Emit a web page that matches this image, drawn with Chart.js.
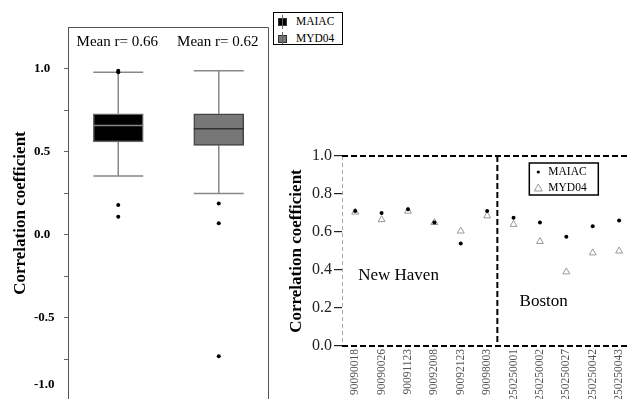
<!DOCTYPE html>
<html>
<head>
<meta charset="utf-8">
<script src="https://cdn.jsdelivr.net/npm/chart.js@4.4.0/dist/chart.umd.min.js"></script>
<style>
  html, body { margin:0; padding:0; background:#fff; overflow:hidden; width:630px; height:399px; }
  #leftChart { position:absolute; left:0; top:0; }
  #rightChart { position:absolute; left:272px; top:0; }
  #boxLegend { position:absolute; left:273px; top:12px; width:68px; height:31px; border:1.5px solid #000; background:#fff;
    font-family:"Liberation Serif", serif; font-size:11.5px; line-height:17px; overflow:hidden; }
  #boxLegend div { position:relative; padding-left:22px; height:17px; }
  #boxLegend .glyph { position:absolute; left:4px; top:5px; width:7px; height:6px; border:1px solid #333; }
  #boxLegend .glyph:before { content:""; position:absolute; left:3px; top:-4px; width:1px; height:14px; background:#666; }
</style>
</head>
<body>
<canvas id="leftChart" width="272" height="399"></canvas>
<canvas id="rightChart" width="364" height="440"></canvas>
<div id="boxLegend">
  <div><span class="glyph" style="background:#000"></span>MAIAC</div>
  <div><span class="glyph" style="background:#777"></span>MYD04</div>
</div>
<script>
const serif = '"Liberation Serif", "Times New Roman", serif';

// box plot (left)
const boxLabels = ['MAIAC', 'MYD04'];
const boxQ1 = [0.56, 0.54];
const boxMedian = [0.66, 0.64];
const boxQ3 = [0.73, 0.73];
const whiskerLow = [0.355, 0.25];
const whiskerHigh = [0.98, 0.99];
const outliersMAIAC = [0.99, 0.98, 0.18, 0.11];
const outliersMYD04 = [0.19, 0.07, -0.73];
const meanR = [0.66, 0.62];
const leftYTicks = [-1, -0.75, -0.5, -0.25, 0, 0.25, 0.5, 0.75, 1];

// site correlations (right)
const sites = ['90090018', '90090026', '90091123', '90092008', '90092123', '90098003',
               '250250001', '250250002', '250250027', '250250042', '250250043'];
const maiacR = [0.71, 0.70, 0.72, 0.65, 0.54, 0.71, 0.675, 0.65, 0.575, 0.63, 0.66];
const myd04R = [0.705, 0.665, 0.71, 0.65, 0.605, 0.685, 0.64, 0.55, 0.39, 0.49, 0.50];
const rightYTicks = [0, 0.2, 0.4, 0.6, 0.8, 1.0];
const cityNames = ['New Haven', 'Boston'];

const isMajor = v => Math.abs(v * 2 - Math.round(v * 2)) < 1e-6;

// whiskers, median, frame and mean labels
const boxPlugin = {
  id: 'boxPlugin',
  beforeDatasetsDraw(chart) {
    const {ctx, scales: {x, y}} = chart;
    const bars = chart.getDatasetMeta(0).data;
    ctx.save();
    ctx.strokeStyle = '#888';
    ctx.lineWidth = 1.5;
    boxLabels.forEach((lab, i) => {
      const cx = x.getPixelForValue(i);
      const half = bars[i].width / 2;
      ctx.beginPath();
      ctx.moveTo(cx, y.getPixelForValue(boxQ3[i]));
      ctx.lineTo(cx, y.getPixelForValue(whiskerHigh[i]));
      ctx.moveTo(cx, y.getPixelForValue(boxQ1[i]));
      ctx.lineTo(cx, y.getPixelForValue(whiskerLow[i]));
      ctx.moveTo(cx - half, y.getPixelForValue(whiskerHigh[i]));
      ctx.lineTo(cx + half, y.getPixelForValue(whiskerHigh[i]));
      ctx.moveTo(cx - half, y.getPixelForValue(whiskerLow[i]));
      ctx.lineTo(cx + half, y.getPixelForValue(whiskerLow[i]));
      ctx.stroke();
    });
    ctx.restore();
  },
  afterDatasetsDraw(chart) {
    const {ctx, chartArea: a, scales: {x, y}} = chart;
    const bars = chart.getDatasetMeta(0).data;
    ctx.save();
    ctx.lineWidth = 1.5;
    boxLabels.forEach((lab, i) => {
      const cx = x.getPixelForValue(i);
      const half = bars[i].width / 2;
      const my = y.getPixelForValue(boxMedian[i]);
      ctx.strokeStyle = i === 0 ? '#888' : '#333';
      ctx.beginPath();
      ctx.moveTo(cx - half, my);
      ctx.lineTo(cx + half, my);
      ctx.stroke();
      ctx.fillStyle = '#000';
      ctx.font = '15px ' + serif;
      ctx.textAlign = 'center';
      ctx.textBaseline = 'middle';
      ctx.fillText('Mean r= ' + meanR[i].toFixed(2), cx - 1, a.top + 15);
    });
    // frame top and right
    ctx.strokeStyle = '#555';
    ctx.lineWidth = 1;
    ctx.beginPath();
    ctx.moveTo(a.left, a.top + 0.5);
    ctx.lineTo(a.right - 0.5, a.top + 0.5);
    ctx.lineTo(a.right - 0.5, a.bottom);
    ctx.stroke();
    ctx.restore();
  },
  afterDraw(chart) {
    // tick labels below the cut edge are pulled up into view
    const {ctx, chartArea: a, scales: {y}} = chart;
    ctx.save();
    ctx.fillStyle = '#000';
    ctx.font = 'bold 13px ' + serif;
    ctx.textAlign = 'left';
    ctx.textBaseline = 'middle';
    leftYTicks.filter(v => isMajor(v) && v < y.min).forEach(v => {
      ctx.fillText(v.toFixed(1), y.left, a.bottom - 14);
    });
    ctx.restore();
  }
};

new Chart(document.getElementById('leftChart'), {
  type: 'bar',
  data: {
    labels: boxLabels,
    datasets: [{
      data: boxLabels.map((l, i) => [boxQ1[i], boxQ3[i]]),
      backgroundColor: ['#000', '#777'],
      borderColor: ['#666', '#444'],
      borderWidth: 1.5,
      borderSkipped: false,
      barThickness: 50
    }, {
      type: 'line',
      showLine: false,
      data: outliersMAIAC.map(v => ({x: 'MAIAC', y: v}))
        .concat(outliersMYD04.map(v => ({x: 'MYD04', y: v}))),
      pointRadius: 2,
      pointBackgroundColor: '#000',
      pointBorderWidth: 0
    }]
  },
  options: {
    responsive: false,
    animation: false,
    layout: { autoPadding: false, padding: { top: 27, right: 3, left: 34, bottom: 0 } },
    plugins: { legend: { display: false }, tooltip: { enabled: false } },
    scales: {
      x: { display: false, offset: true },
      y: {
        min: -0.988, max: 1.253,
        afterBuildTicks: s => { s.ticks = leftYTicks.map(v => ({value: v})); },
        afterFit: s => { s.width = 34; s.paddingTop = 0; s.paddingBottom = 0; },
        ticks: {
          autoSkip: false,
          crossAlign: 'far',
          callback: v => (isMajor(v) && v >= -0.988 ? v.toFixed(1) : ''),
          font: { family: serif, size: 13, weight: 'bold' },
          color: '#000',
          padding: 3
        },
        grid: { display: true, drawOnChartArea: false, drawTicks: true, tickLength: 4, color: '#666' },
        border: { display: true, color: '#555' },
        title: {
          display: true, text: 'Correlation coefficient', color: '#000',
          font: { family: serif, size: 17, weight: 'bold' },
          padding: { top: -24, bottom: 0 }
        }
      }
    }
  },
  plugins: [boxPlugin]
});

// dashed frame, divider, city names and inner legend
const sitePlugin = {
  id: 'sitePlugin',
  beforeDatasetsDraw(chart) {
    const {ctx, chartArea: a, scales: {x, y}} = chart;
    ctx.save();
    ctx.strokeStyle = '#aaa';
    ctx.lineWidth = 1;
    ctx.setLineDash([4, 3]);
    ctx.beginPath();
    ctx.moveTo(a.left + 0.5, a.top);
    ctx.lineTo(a.left + 0.5, a.bottom);
    ctx.stroke();
    ctx.strokeStyle = '#000';
    ctx.lineWidth = 2;
    ctx.setLineDash([6, 3]);
    ctx.beginPath();
    ctx.moveTo(a.left, a.top);
    ctx.lineTo(a.right + 4, a.top);
    ctx.moveTo(a.left, a.bottom);
    ctx.lineTo(a.right + 4, a.bottom);
    const dx = (x.getPixelForValue(5) + x.getPixelForValue(6)) / 2 - 3;
    ctx.moveTo(dx, a.top);
    ctx.lineTo(dx, a.bottom);
    ctx.stroke();
    ctx.setLineDash([]);

    ctx.fillStyle = '#000';
    ctx.font = '17px ' + serif;
    ctx.textAlign = 'left';
    ctx.textBaseline = 'middle';
    ctx.fillText(cityNames[0], x.getPixelForValue(0) + 3, y.getPixelForValue(0.37));
    ctx.fillText(cityNames[1], x.getPixelForValue(6) + 6, y.getPixelForValue(0.235));

    // legend box
    const lx = a.right - 103, ly = a.top + 7;
    ctx.lineWidth = 1.5;
    ctx.strokeStyle = '#000';
    ctx.strokeRect(lx, ly, 69, 32);
    ctx.font = '11.5px ' + serif;
    ctx.fillText('MAIAC', lx + 19, ly + 9);
    ctx.fillText('MYD04', lx + 19, ly + 25);
    ctx.beginPath();
    ctx.arc(lx + 9, ly + 9, 1.6, 0, Math.PI * 2);
    ctx.fill();
    ctx.strokeStyle = '#999';
    ctx.lineWidth = 1;
    ctx.beginPath();
    ctx.moveTo(lx + 9, ly + 21);
    ctx.lineTo(lx + 13, ly + 28);
    ctx.lineTo(lx + 5, ly + 28);
    ctx.closePath();
    ctx.stroke();
    ctx.restore();
  }
};

new Chart(document.getElementById('rightChart'), {
  type: 'line',
  data: {
    labels: sites,
    datasets: [{
      label: 'MAIAC',
      data: maiacR,
      showLine: false,
      pointRadius: 2,
      pointBackgroundColor: '#000',
      pointBorderWidth: 0
    }, {
      label: 'MYD04',
      data: myd04R,
      showLine: false,
      pointStyle: 'triangle',
      pointRadius: 4,
      pointBackgroundColor: 'rgba(255,255,255,0)',
      pointBorderColor: '#999',
      pointBorderWidth: 1
    }]
  },
  options: {
    responsive: false,
    animation: false,
    layout: { autoPadding: false, padding: { top: 156, right: 2, left: 0, bottom: 0 } },
    plugins: { legend: { display: false }, tooltip: { enabled: false } },
    scales: {
      x: {
        offset: true,
        afterFit: s => { s.height = 94; },
        grid: { display: false, drawTicks: false },
        border: { display: false },
        ticks: {
          autoSkip: false, minRotation: 90, maxRotation: 90, padding: 3,
          font: { family: serif, size: 11.5 }, color: '#555'
        }
      },
      y: {
        min: 0, max: 1,
        afterBuildTicks: s => { s.ticks = rightYTicks.map(v => ({value: v})); },
        afterFit: s => { s.width = 70; },
        ticks: {
          callback: v => v.toFixed(1),
          font: { family: serif, size: 16 }, color: '#222', padding: 2
        },
        grid: { display: true, drawOnChartArea: false, drawTicks: true, tickLength: 8, color: '#222', lineWidth: 1.2 },
        border: { display: false },
        title: {
          display: true, text: 'Correlation coefficient', color: '#000',
          font: { family: serif, size: 17, weight: 'bold' },
          padding: { top: 14, bottom: 0 }
        }
      }
    }
  },
  plugins: [sitePlugin]
});
</script>
</body>
</html>
